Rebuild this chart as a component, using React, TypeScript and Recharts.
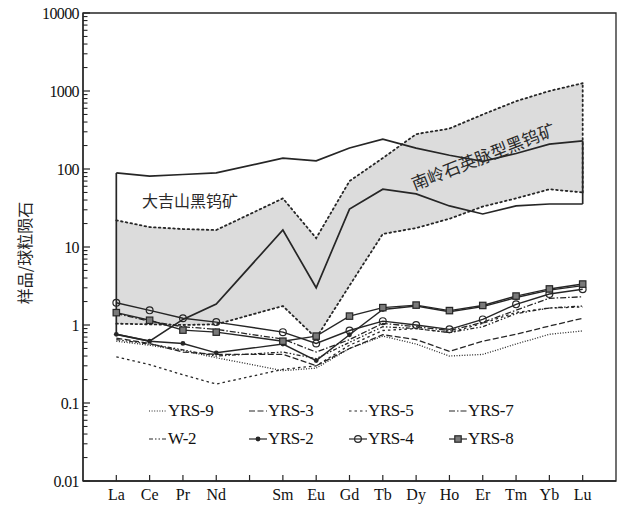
import { ComposedChart, Line, Area, XAxis, YAxis, ReferenceLine, ReferenceArea, Legend } from "recharts";

// chondrite-normalised REE, Pm left out (gap on the axis)
const elements = ["La", "Ce", "Pr", "Nd", "Sm", "Eu", "Gd", "Tb", "Dy", "Ho", "Er", "Tm", "Yb", "Lu"];
const positions = [1, 2, 3, 4, 6, 7, 8, 9, 10, 11, 12, 13, 14, 15];
const xTickLabels = ["La", "Ce", "Pr", "Nd", "", "Sm", "Eu", "Gd", "Tb", "Dy", "Ho", "Er", "Tm", "Yb", "Lu"];
const yMajorTicks = [0.01, 0.1, 1, 10, 100, 1000, 10000];

const yrs9 = [0.62, 0.55, 0.47, 0.38, 0.26, 0.28, 0.5, 0.72, 0.57, 0.4, 0.42, 0.57, 0.76, 0.84];
const yrs3 = [0.68, 0.58, 0.45, 0.42, 0.42, 0.3, 0.5, 0.75, 0.65, 0.46, 0.62, 0.76, 0.97, 1.22];
const yrs5 = [0.39, 0.31, 0.23, 0.175, 0.27, 0.3, 0.55, 0.85, 0.9, 0.8, 1.05, 1.45, 1.65, 1.7];
const yrs7 = [1.4, 1.12, 0.95, 0.88, 0.66, 0.45, 0.65, 1.05, 0.95, 0.85, 1.08, 1.55, 2.2, 2.3];
const w2 = [0.65, 0.57, 0.48, 0.4, 0.45, 0.37, 0.6, 0.95, 0.9, 0.8, 0.95, 1.4, 1.65, 1.75];
const yrs2 = [0.76, 0.62, 0.58, 0.44, 0.57, 0.35, 0.75, 1.58, 1.75, 1.48, 1.72, 2.25, 2.8, 3.2];
const yrs4 = [1.93, 1.54, 1.22, 1.09, 0.81, 0.58, 0.85, 1.12, 1.0, 0.88, 1.18, 1.84, 2.5, 2.87];
const yrs8 = [1.44, 1.15, 0.86, 0.81, 0.62, 0.72, 1.3, 1.67, 1.8, 1.53, 1.78, 2.35, 2.9, 3.35];

// 大吉山黑钨矿 field (solid outline)
const dajiUpper = [89, 81, 85, 89, 138, 127, 186, 242, 185, 150, 125, 158, 208, 230];
const dajiLower = [0.76, 0.62, 1.18, 1.86, 16.5, 3.0, 30.6, 55, 48, 33.6, 26.5, 33.6, 35.6, 35.6];
// 南岭石英脉型黑钨矿 field (grey, dotted outline)
const nanUpper = [22, 18, 17, 16.5, 42, 13, 70, 138, 280, 330, 500, 740, 1000, 1260];
const nanLower = [1.04, 1.02, 1.0, 1.02, 1.75, 0.68, 3.2, 14.7, 17.5, 23, 33, 42, 55, 50];

const data = elements.map((el, i) => ({
  el,
  x: positions[i],
  yrs9: yrs9[i],
  yrs3: yrs3[i],
  yrs5: yrs5[i],
  yrs7: yrs7[i],
  w2: w2[i],
  yrs2: yrs2[i],
  yrs4: yrs4[i],
  yrs8: yrs8[i],
  dajiUpper: dajiUpper[i],
  dajiLower: dajiLower[i],
  nan: [nanLower[i], nanUpper[i]],
  nanUpper: nanUpper[i],
  nanLower: nanLower[i],
}));

const yMinorTicks: number[] = [];
yMajorTicks.slice(0, -1).forEach((d) => {
  for (let k = 2; k <= 9; k++) yMinorTicks.push(+(d * k).toPrecision(3));
});
const xTickValues = xTickLabels.map((_, i) => i + 1);

const X_MIN = 0;
const X_MAX = 16;
const Y_MIN = 0.01;
const Y_MAX = 10000;

// chart box: plot area follows from the margins and axis sizes below
const W = 619;
const H = 506;
const MARGIN = { top: 13, right: 3, left: 0, bottom: 0 };
const Y_AXIS_W = 83;
const X_AXIS_H = 25;
const PLOT = {
  left: MARGIN.left + Y_AXIS_W,
  top: MARGIN.top,
  width: W - MARGIN.left - MARGIN.right - Y_AXIS_W,
  height: H - MARGIN.top - MARGIN.bottom - X_AXIS_H,
};
const px = (v: number) => PLOT.left + ((v - X_MIN) / (X_MAX - X_MIN)) * PLOT.width;
const py = (v: number) =>
  PLOT.top + ((Math.log10(Y_MAX) - Math.log10(v)) / (Math.log10(Y_MAX) - Math.log10(Y_MIN))) * PLOT.height;

const INK = "#262626";
const SERIF = "'Liberation Serif', 'Times New Roman', serif";
const CJK = "'Noto Sans CJK SC', sans-serif";

const DASH = {
  yrs9: "1 1.6",
  yrs3: "6 2.5",
  yrs5: "2.5 3",
  yrs7: "6 2 1.5 2",
  w2: "4 2 1.5 2 1.5 2",
};

const legendItems = [
  { name: "YRS-9", dash: DASH.yrs9, marker: "" },
  { name: "YRS-3", dash: DASH.yrs3, marker: "" },
  { name: "YRS-5", dash: DASH.yrs5, marker: "" },
  { name: "YRS-7", dash: DASH.yrs7, marker: "" },
  { name: "W-2", dash: DASH.w2, marker: "" },
  { name: "YRS-2", dash: "", marker: "dot" },
  { name: "YRS-4", dash: "", marker: "circle" },
  { name: "YRS-8", dash: "", marker: "square" },
];

function Marker({ kind, cx, cy }: { kind: string; cx: number; cy: number }) {
  if (kind === "dot") return <circle cx={cx} cy={cy} r={2.4} fill={INK} />;
  if (kind === "circle") return <circle cx={cx} cy={cy} r={3.4} fill="none" stroke={INK} strokeWidth={1.2} />;
  if (kind === "square")
    return <rect x={cx - 3.2} y={cy - 3.2} width={6.4} height={6.4} fill="#7a7a7a" stroke={INK} strokeWidth={1.2} />;
  return null;
}

const makeDot = (kind: string) => (p: any) =>
  p.cx == null ? <g key={`e-${p.index}`} /> : (
    <g key={`${kind}-${p.index}`}>
      <Marker kind={kind} cx={p.cx} cy={p.cy} />
    </g>
  );

function YLabel() {
  return (
    <text
      x={24}
      y={253}
      transform="rotate(-90, 24, 253)"
      textAnchor="middle"
      dominantBaseline="central"
      fontFamily={CJK}
      fontSize={16}
      fill="#222"
    >
      样品/球粒陨石
    </text>
  );
}

function LegendBox() {
  return (
    <div style={{ display: "grid", gridTemplateColumns: "repeat(4, 100px)", rowGap: 4 }}>
      {legendItems.map((it) => (
        <div key={it.name} style={{ display: "flex", alignItems: "center", height: 24 }}>
          <svg width={18} height={10} style={{ marginRight: 1 }}>
            <line x1={0} x2={18} y1={5} y2={5} stroke={INK} strokeWidth={1.2} strokeDasharray={it.dash || undefined} />
            {it.marker && <Marker kind={it.marker} cx={9} cy={5} />}
          </svg>
          <span style={{ fontFamily: SERIF, fontSize: 17, color: "#111", letterSpacing: -0.4 }}>{it.name}</span>
        </div>
      ))}
    </div>
  );
}

// inward axis ticks, laid over the chart
function InwardTicks() {
  const x0 = PLOT.left;
  const y0 = PLOT.top + PLOT.height;
  return (
    <svg width={W} height={H} style={{ position: "absolute", left: 0, top: 0, pointerEvents: "none" }}>
      {yMajorTicks.map((v) => (
        <line key={`ym-${v}`} x1={x0} x2={x0 + 7} y1={py(v)} y2={py(v)} stroke={INK} strokeWidth={1.2} />
      ))}
      {yMinorTicks.map((v) => (
        <line key={`yn-${v}`} x1={x0} x2={x0 + 4.5} y1={py(v)} y2={py(v)} stroke={INK} strokeWidth={1.1} />
      ))}
      {xTickValues.map((v) => (
        <line key={`xt-${v}`} x1={px(v)} x2={px(v)} y1={y0} y2={y0 - 6} stroke={INK} strokeWidth={1.2} />
      ))}
    </svg>
  );
}

const first = 0;
const last = elements.length - 1;
const tickFont = { fontFamily: SERIF, fontSize: 16, fill: "#111" };
const frameLine = { stroke: INK, strokeWidth: 1.3 };

export default function App() {
  return (
    <div style={{ position: "absolute", left: 0, top: 0, width: W, height: H, background: "#fff" }}>
      <ComposedChart width={W} height={H} data={data} margin={MARGIN}>
        <XAxis
          type="number"
          dataKey="x"
          domain={[X_MIN, X_MAX]}
          ticks={xTickValues}
          tickFormatter={(v: number) => xTickLabels[v - 1]}
          interval={0}
          height={X_AXIS_H}
          tickSize={0}
          tickMargin={8}
          tickLine={false}
          axisLine={frameLine}
          tick={tickFont}
        />
        <YAxis
          type="number"
          scale="log"
          domain={[Y_MIN, Y_MAX]}
          allowDataOverflow
          ticks={yMajorTicks}
          interval={0}
          width={Y_AXIS_W}
          tickSize={0}
          tickMargin={4}
          tickLine={false}
          axisLine={frameLine}
          tick={{ ...tickFont, letterSpacing: -0.6 }}
          label={<YLabel />}
        />
        <Legend
          layout="horizontal"
          verticalAlign="middle"
          align="center"
          content={<LegendBox />}
          wrapperStyle={{ position: "absolute", left: 149, top: 399, width: 420 }}
        />

        <Area dataKey="nan" stroke="none" fill="#dcdcdc" fillOpacity={1} isAnimationActive={false} />
        <Line dataKey="nanUpper" stroke={INK} strokeWidth={1.8} strokeDasharray="1.6 3.2" strokeLinecap="round" dot={false} isAnimationActive={false} />
        <Line dataKey="nanLower" stroke={INK} strokeWidth={1.8} strokeDasharray="1.6 3.2" strokeLinecap="round" dot={false} isAnimationActive={false} />
        <ReferenceLine
          segment={[{ x: positions[last], y: nanLower[last] }, { x: positions[last], y: nanUpper[last] }]}
          stroke={INK}
          strokeWidth={1.8}
          strokeDasharray="1.6 3.2"
          strokeLinecap="round"
        />

        <Line dataKey="dajiUpper" stroke={INK} strokeWidth={1.7} dot={false} isAnimationActive={false} />
        <Line dataKey="dajiLower" stroke={INK} strokeWidth={1.7} dot={false} isAnimationActive={false} />
        <ReferenceLine
          segment={[{ x: positions[first], y: dajiLower[first] }, { x: positions[first], y: dajiUpper[first] }]}
          stroke={INK}
          strokeWidth={1.7}
        />
        <ReferenceLine
          segment={[{ x: positions[last], y: dajiLower[last] }, { x: positions[last], y: dajiUpper[last] }]}
          stroke={INK}
          strokeWidth={1.7}
        />

        <Line dataKey="yrs9" stroke={INK} strokeWidth={1.3} strokeDasharray={DASH.yrs9} dot={false} isAnimationActive={false} />
        <Line dataKey="yrs3" stroke={INK} strokeWidth={1.3} strokeDasharray={DASH.yrs3} dot={false} isAnimationActive={false} />
        <Line dataKey="yrs5" stroke={INK} strokeWidth={1.3} strokeDasharray={DASH.yrs5} dot={false} isAnimationActive={false} />
        <Line dataKey="yrs7" stroke={INK} strokeWidth={1.3} strokeDasharray={DASH.yrs7} dot={false} isAnimationActive={false} />
        <Line dataKey="w2" stroke={INK} strokeWidth={1.3} strokeDasharray={DASH.w2} dot={false} isAnimationActive={false} />
        <Line dataKey="yrs2" stroke={INK} strokeWidth={1.4} dot={makeDot("dot")} isAnimationActive={false} />
        <Line dataKey="yrs4" stroke={INK} strokeWidth={1.4} dot={makeDot("circle")} isAnimationActive={false} />
        <Line dataKey="yrs8" stroke={INK} strokeWidth={1.4} dot={makeDot("square")} isAnimationActive={false} />

        <ReferenceArea x1={X_MIN} x2={X_MAX} y1={Y_MIN} y2={Y_MAX} fill="none" stroke={INK} strokeWidth={1.3} ifOverflow="visible" />
      </ComposedChart>

      <InwardTicks />

      <div style={{ position: "absolute", left: 142, top: 189, fontFamily: CJK, fontSize: 16, color: "#2a2a2a", whiteSpace: "nowrap", lineHeight: "22px" }}>
        大吉山黑钨矿
      </div>
      <div
        style={{
          position: "absolute",
          left: 483,
          top: 156,
          transform: "translate(-50%, -50%) rotate(-21.5deg)",
          fontFamily: CJK,
          fontSize: 17,
          color: "#2a2a2a",
          whiteSpace: "nowrap",
          lineHeight: "22px",
        }}
      >
        南岭石英脉型黑钨矿
      </div>
    </div>
  );
}
